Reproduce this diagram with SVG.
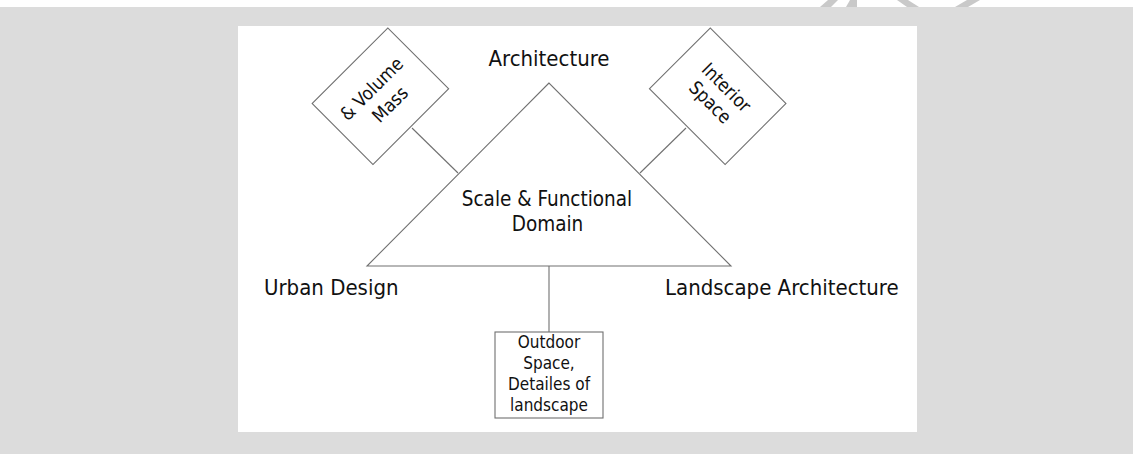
<svg xmlns="http://www.w3.org/2000/svg" width="1133" height="454" viewBox="0 0 1133 454">
<style>
text{font-family:"DejaVu Sans","Liberation Sans",sans-serif;font-stretch:condensed;fill:#111}
.big{font-size:22px}
.mid{font-size:20.5px}
.sm{font-size:17px}
.dia{font-size:18.5px}
.ln{stroke:#707070;stroke-width:1.1;fill:none}
.shape{stroke:#707070;stroke-width:1.1;fill:#fff}
</style>
<rect x="0" y="0" width="1133" height="454" fill="#dcdcdc"/>
<rect x="0" y="0" width="1133" height="7" fill="#fff"/>
<g fill="#c9c9c9">
<path d="M820 7 L828 0 L838 0 L831 7 Z"/>
<path d="M846 7 L850 0 L857 0 L857 7 Z"/>
<path d="M897 0 L908 0 L919 7 L907 7 Z"/>
<path d="M955 7 L967 0 L980 0 L968 7 Z"/>
</g>
<rect x="238" y="26" width="679" height="406" fill="#fff"/>
<g id="connectors">
<line class="ln" x1="412" y1="128" x2="458" y2="173"/>
<line class="ln" x1="686" y1="128" x2="640" y2="173"/>
<line class="ln" x1="549" y1="266" x2="549" y2="332"/>
</g>
<g id="triangle">
<polygon class="ln" points="549,83 367,266 731,266"/>
<text class="mid" x="547" y="206" text-anchor="middle">Scale &amp; Functional</text>
<text class="mid" x="547.5" y="231" text-anchor="middle">Domain</text>
</g>
<g id="architecture"><text class="big" x="549" y="66" text-anchor="middle">Architecture</text></g>
<g id="urban-design"><text class="big" x="264" y="295">Urban Design</text></g>
<g id="landscape-architecture"><text class="big" x="665" y="295">Landscape Architecture</text></g>
<g id="mass-volume" transform="translate(380.4,96.2) rotate(-45)">
<rect class="shape" x="-53.5" y="-43" width="107" height="86"/>
<text class="dia" x="-1" y="-5" text-anchor="middle">&amp; Volume</text>
<text class="dia" x="1" y="19" text-anchor="middle">Mass</text>
</g>
<g id="interior-space" transform="translate(717.7,96.2) rotate(45)">
<rect class="shape" x="-53.5" y="-43" width="107" height="86"/>
<text class="dia" x="0" y="-6" text-anchor="middle">Interior</text>
<text class="dia" x="-1" y="16" text-anchor="middle">Space</text>
</g>
<g id="outdoor">
<rect class="shape" x="495" y="332" width="108" height="86" stroke="#888"/>
<text class="sm" x="549" y="348" text-anchor="middle">Outdoor</text>
<text class="sm" x="549" y="369" text-anchor="middle">Space,</text>
<text class="sm" x="549" y="390" text-anchor="middle">Detailes of</text>
<text class="sm" x="549" y="411" text-anchor="middle">landscape</text>
</g>
</svg>
